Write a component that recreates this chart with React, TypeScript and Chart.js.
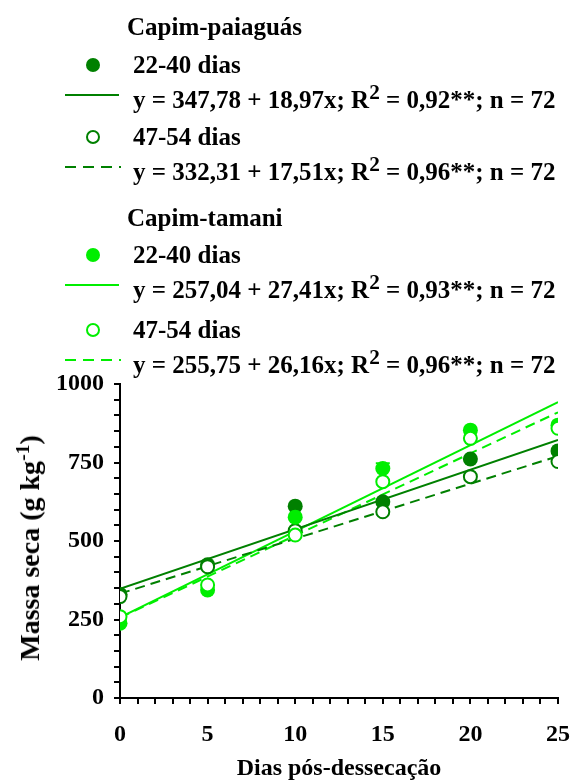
import React, { useEffect, useRef } from "react";
import { Chart, registerables } from "chart.js";

Chart.register(...registerables);

const days = [0, 5, 10, 15, 20, 25];
const paiaguas2240 = [330, 424, 611, 625, 761, 787];
const paiaguas4754 = [323, 418, 533, 593, 705, 753];
const tamani2240 = [238, 344, 576, 731, 853, 869];
const tamani4754 = [259, 360, 519, 689, 827, 859];
const tamani2240Err = [0, 0, 0, 17, 0, 0];

const fitX = [0, 25];
const paiaguas2240Fit = [347.78, 822.03];
const paiaguas4754Fit = [332.31, 770.06];
const tamani2240Fit = [257.04, 942.29];
const tamani4754Fit = [255.75, 909.75];

const groupTitles = ["Capim-paiaguás", "Capim-tamani"];
const seriesLabels = ["22-40 dias", "47-54 dias"];
const eqIntercepts = ["347,78", "332,31", "257,04", "255,75"];
const eqSlopes = ["18,97", "17,51", "27,41", "26,16"];
const eqR2 = ["0,92", "0,96", "0,93", "0,96"];
const eqN = ["72", "72", "72", "72"];

const xTickStep = 1;
const xLabelStep = 5;
const yTickStep = 50;
const yLabelStep = 250;

const DARK = "#008000";
const LIGHT = "#00ee00";
const FONT = "'Liberation Serif', 'Times New Roman', Times, serif";
const LEGEND_SIZE = 25;
const AXIS_SIZE = 24;
const YTITLE_SIZE = 28;

const pts = (ys: number[]) => days.map((d, i) => ({ x: d, y: ys[i] }));
const fit = (ys: number[]) => fitX.map((d, i) => ({ x: d, y: ys[i] }));

const errorBarPlugin = {
  id: "errbars",
  afterDatasetDraw(chart: any, args: any) {
    const ds = chart.data.datasets[args.index];
    if (!ds.errors) return;
    const { ctx, scales } = chart;
    ctx.save();
    ctx.strokeStyle = ds.borderColor;
    ctx.lineWidth = 2;
    ds.data.forEach((p: any, i: number) => {
      const e = ds.errors[i];
      if (!e) return;
      const x = scales.x.getPixelForValue(p.x);
      const y0 = scales.y.getPixelForValue(p.y);
      const y1 = scales.y.getPixelForValue(p.y + e);
      ctx.beginPath();
      ctx.moveTo(x, y0);
      ctx.lineTo(x, y1);
      ctx.moveTo(x - 7, y1);
      ctx.lineTo(x + 7, y1);
      ctx.stroke();
    });
    ctx.restore();
  },
};

function Marker({ kind, color, top }: { kind: string; color: string; top: number }) {
  const base: React.CSSProperties = { position: "absolute" };
  if (kind === "filled")
    return <div style={{ ...base, left: 86, top: top - 7, width: 14, height: 14, borderRadius: "50%", background: color }} />;
  if (kind === "open")
    return (
      <div
        style={{ ...base, left: 86, top: top - 7, width: 14, height: 14, borderRadius: "50%", boxSizing: "border-box", border: `2px solid ${color}`, background: "#fff" }}
      />
    );
  if (kind === "solid")
    return <div style={{ ...base, left: 65, top: top - 1, width: 54, height: 2, background: color }} />;
  return (
    <div
      style={{ ...base, left: 65, top: top - 1, width: 56, height: 2, background: `repeating-linear-gradient(to right, ${color} 0 11px, transparent 11px 18px)` }}
    />
  );
}

function Text({ top, left, children }: { top: number; left: number; children: any }) {
  return (
    <div style={{ position: "absolute", left, top: top - 15, lineHeight: "30px", height: 30, fontFamily: FONT, fontWeight: "bold", fontSize: LEGEND_SIZE, color: "#000", whiteSpace: "nowrap" }}>
      {children}
    </div>
  );
}

function Equation({ i }: { i: number }) {
  return (
    <>
      y = {eqIntercepts[i]} + {eqSlopes[i]}x; R
      <sup style={{ fontSize: "0.85em", verticalAlign: "0.42em", lineHeight: 0 }}>2</sup> = {eqR2[i]}**; n = {eqN[i]}
    </>
  );
}

function Legend() {
  const groups = [
    { title: groupTitles[0], color: DARK, top: 27, rows: [65, 100, 137, 172], eq: [0, 1] },
    { title: groupTitles[1], color: LIGHT, top: 218, rows: [255, 290, 330, 365], eq: [2, 3] },
  ];
  return (
    <>
      {groups.map((g, gi) => (
        <React.Fragment key={gi}>
          <Text top={g.top} left={127}>{g.title}</Text>
          <Marker kind="filled" color={g.color} top={g.rows[0]} />
          <Text top={g.rows[0]} left={133}>{seriesLabels[0]}</Text>
          <Marker kind="solid" color={g.color} top={g.rows[1] - 5} />
          <Text top={g.rows[1]} left={133}><Equation i={g.eq[0]} /></Text>
          <Marker kind="open" color={g.color} top={g.rows[2]} />
          <Text top={g.rows[2]} left={133}>{seriesLabels[1]}</Text>
          <Marker kind="dashed" color={g.color} top={g.rows[3] - 5} />
          <Text top={g.rows[3]} left={133}><Equation i={g.eq[1]} /></Text>
        </React.Fragment>
      ))}
    </>
  );
}

export default function App() {
  const ref = useRef<HTMLCanvasElement>(null);

  useEffect(() => {
    if (!ref.current) return;
    const tickFont = { family: FONT, size: AXIS_SIZE, weight: "bold" as const };
    const pointDs = (label: string, ys: number[], color: string, open: boolean, order: number, extra: any = {}) => ({
      label,
      data: pts(ys),
      showLine: false,
      pointRadius: open ? 6.5 : 7.5,
      pointBorderWidth: open ? 2 : 0,
      pointBackgroundColor: open ? "#ffffff" : color,
      pointBorderColor: color,
      borderColor: color,
      backgroundColor: color,
      order,
      ...extra,
    });
    const lineDs = (label: string, ys: number[], color: string, dashed: boolean) => ({
      label,
      data: fit(ys),
      showLine: true,
      pointRadius: 0,
      borderColor: color,
      borderWidth: 2,
      borderDash: dashed ? [10, 6] : [],
      fill: false,
      order: 10,
    });
    const chart = new Chart(ref.current, {
      type: "scatter",
      data: {
        datasets: [
          lineDs("paiaguas 22-40 fit", paiaguas2240Fit, DARK, false),
          lineDs("paiaguas 47-54 fit", paiaguas4754Fit, DARK, true),
          lineDs("tamani 22-40 fit", tamani2240Fit, LIGHT, false),
          lineDs("tamani 47-54 fit", tamani4754Fit, LIGHT, true),
          pointDs("paiaguas 22-40", paiaguas2240, DARK, false, 4),
          pointDs("paiaguas 47-54", paiaguas4754, DARK, true, 3),
          pointDs("tamani 22-40", tamani2240, LIGHT, false, 2, { errors: tamani2240Err }),
          pointDs("tamani 47-54", tamani4754, LIGHT, true, 1),
        ] as any,
      },
      options: {
        animation: false,
        responsive: false,
        maintainAspectRatio: false,
        layout: { padding: { left: 0, top: 384, right: 13, bottom: 0 } },
        plugins: { legend: { display: false }, tooltip: { enabled: false } },
        scales: {
          x: {
            type: "linear",
            min: 0,
            max: 25,
            ticks: {
              stepSize: xTickStep,
              autoSkip: false,
              maxRotation: 0,
              padding: 16,
              color: "#000",
              font: tickFont,
              callback: (v: any) => (Number(v) % xLabelStep === 0 ? String(v) : ""),
            },
            grid: { drawOnChartArea: false, drawTicks: true, tickLength: 6, color: "#000", lineWidth: 2 },
            border: { display: true, color: "#000", width: 2 },
            title: { display: true, text: "Dias pós-dessecação", color: "#000", font: tickFont, padding: { top: 0, bottom: 0 } },
            afterFit: (s: any) => {
              s.height = 85;
              s.paddingLeft = 0;
              s.paddingRight = 0;
            },
          },
          y: {
            type: "linear",
            min: 0,
            max: 1000,
            ticks: {
              stepSize: yTickStep,
              autoSkip: false,
              padding: 10,
              color: "#000",
              font: tickFont,
              callback: (v: any) => (Number(v) % yLabelStep === 0 ? String(v) : ""),
            },
            grid: { drawOnChartArea: false, drawTicks: true, tickLength: 6, color: "#000", lineWidth: 2 },
            border: { display: true, color: "#000", width: 2 },
            afterFit: (s: any) => {
              s.width = 120;
              s.paddingTop = 0;
              s.paddingBottom = 0;
            },
          },
        },
      } as any,
      plugins: [errorBarPlugin],
    });
    return () => chart.destroy();
  }, []);

  return (
    <div style={{ position: "absolute", left: 0, top: 0, width: 571, height: 783, background: "#fff", overflow: "hidden" }}>
      <canvas ref={ref} width={571} height={783} style={{ position: "absolute", left: 0, top: 0 }} />
      <Legend />
      <div
        style={{
          position: "absolute",
          left: 30,
          top: 548,
          transform: "translate(-50%, -50%) rotate(-90deg)",
          fontFamily: FONT,
          fontWeight: "bold",
          fontSize: YTITLE_SIZE,
          lineHeight: "32px",
          whiteSpace: "nowrap",
          color: "#000",
        }}
      >
        Massa seca (g kg<sup style={{ fontSize: "0.7em", verticalAlign: "0.5em", lineHeight: 0 }}>-1</sup>)
      </div>
    </div>
  );
}
